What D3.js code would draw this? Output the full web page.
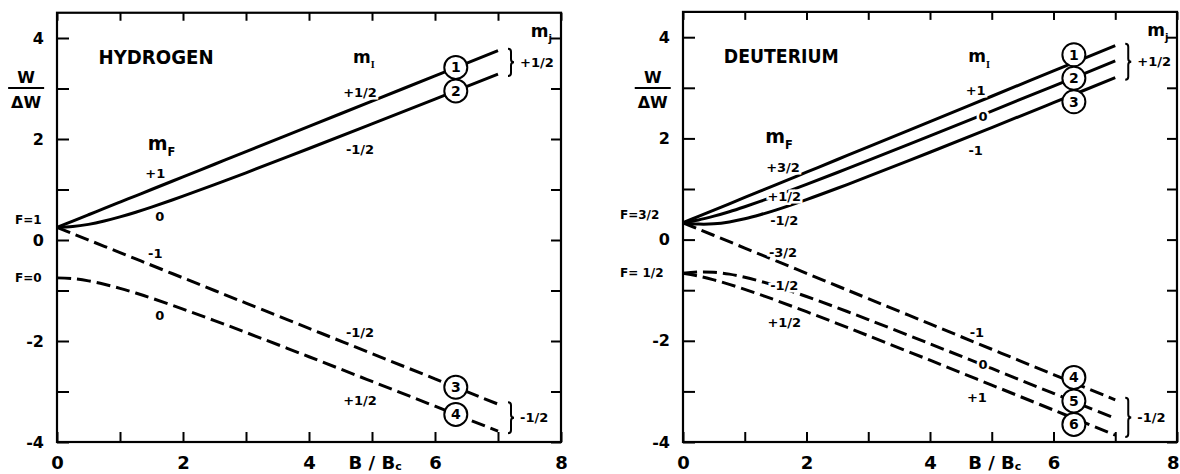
<!DOCTYPE html>
<html>
<head>
<meta charset="utf-8">
<script src="https://cdn.jsdelivr.net/npm/d3@7"></script>
<style>
  body { margin: 0; background: #fff; }
  svg { display: block; font-family: "DejaVu Sans", sans-serif; font-weight: bold; }
</style>
</head>
<body>
<div id="container"></div>
<script>
// B/Bc sample points and W/ΔW
const bField = [0, 0.25, 0.5, 0.75, 1, 1.25, 1.5, 2, 2.5, 3, 4, 5, 6, 7];

// hydrogen
const hyd1 = [0.25, 0.375, 0.5, 0.625, 0.75, 0.875, 1.0, 1.25, 1.5, 1.75, 2.25, 2.75, 3.25, 3.75];
const hyd2 = [0.25, 0.265, 0.309, 0.375, 0.457, 0.55, 0.651, 0.868, 1.096, 1.331, 1.812, 2.3, 2.791, 3.286];
const hyd3 = [0.25, 0.125, 0, -0.125, -0.25, -0.375, -0.5, -0.75, -1.0, -1.25, -1.75, -2.25, -2.75, -3.25];
const hyd4 = [-0.75, -0.765, -0.809, -0.875, -0.957, -1.05, -1.151, -1.368, -1.596, -1.831, -2.312, -2.8, -3.291, -3.786];

// deuterium
const deut1 = [0.333, 0.458, 0.583, 0.708, 0.833, 0.958, 1.083, 1.333, 1.583, 1.833, 2.333, 2.833, 3.333, 3.833];
const deut2 = [0.333, 0.388, 0.463, 0.551, 0.65, 0.755, 0.864, 1.092, 1.326, 1.565, 2.051, 2.541, 3.035, 3.53];
const deut3 = [0.333, 0.307, 0.312, 0.349, 0.411, 0.491, 0.583, 0.791, 1.015, 1.248, 1.726, 2.214, 2.706, 3.2];
const deut4 = [0.333, 0.208, 0.083, -0.042, -0.167, -0.292, -0.417, -0.667, -0.917, -1.167, -1.667, -2.167, -2.667, -3.167];
const deut5 = [-0.667, -0.64, -0.645, -0.682, -0.744, -0.824, -0.917, -1.124, -1.348, -1.581, -2.06, -2.547, -3.039, -3.533];
const deut6 = [-0.667, -0.721, -0.796, -0.885, -0.983, -1.088, -1.197, -1.425, -1.66, -1.899, -2.384, -2.875, -3.368, -3.863];

const xTicks = [0, 1, 2, 3, 4, 5, 6, 7, 8];
const xTickLabels = [0, 2, 4, 6, 8];
const yTicks = [-4, -3, -2, -1, 0, 1, 2, 3, 4];
const yTickLabels = [-4, -2, 0, 2, 4];

// quantum number labels: text, B/Bc, W/ΔW
const hydLabels = [
  ["+1", 1.56, 1.33], ["0", 1.63, 0.46], ["-1", 1.56, -0.26], ["0", 1.63, -1.49],
  ["+1/2", 4.81, 2.93], ["-1/2", 4.81, 1.8], ["-1/2", 4.81, -1.82], ["+1/2", 4.81, -3.17]
];
const deutLabels = [
  ["+3/2", 1.62, 1.42], ["+1/2", 1.64, 0.86], ["-1/2", 1.64, 0.39], ["-3/2", 1.62, -0.25],
  ["-1/2", 1.64, -0.9], ["+1/2", 1.64, -1.63],
  ["+1", 4.74, 2.96], ["0", 4.86, 2.44], ["-1", 4.74, 1.77],
  ["-1", 4.76, -1.84], ["0", 4.86, -2.47], ["+1", 4.76, -3.11]
];

const width = 1180;
const height = 474;

const panels = [
  {
    title: "HYDROGEN", xRange: [57, 561], yRange: [442, 12.75],
    series: [[hyd1, false], [hyd2, false], [hyd3, true], [hyd4, true]],
    groups: [[0, 1, "+1/2"], [2, 3, "-1/2"]],
    labels: hydLabels,
    mF: [1.44, 1.88], mI: 4.7,
    fLabels: [["F=1", 0.4], ["F=0", -0.75]], fStart: -42
  },
  {
    title: "DEUTERIUM", xRange: [683, 1177], yRange: [442, 11.9],
    series: [[deut1, false], [deut2, false], [deut3, false], [deut4, true], [deut5, true], [deut6, true]],
    groups: [[0, 2, "+1/2"], [3, 5, "-1/2"]],
    labels: deutLabels,
    mF: [1.33, 2.0], mI: 4.62,
    fLabels: [["F=3/2", 0.49], ["F= 1/2", -0.66]], fStart: -63
  }
];

const svg = d3.select("#container").append("svg")
  .attr("width", width)
  .attr("height", height);

function brace(x, y0, y1, w) {
  const m = (y0 + y1) / 2;
  return `M${x},${y0} Q${x + w},${y0} ${x + w},${y0 + w} L${x + w},${m - w} Q${x + w},${m} ${x + 2 * w},${m}` +
    ` Q${x + w},${m} ${x + w},${m + w} L${x + w},${y1 - w} Q${x + w},${y1} ${x},${y1}`;
}

panels.forEach(p => {
  const x = d3.scaleLinear().domain([0, 8]).range(p.xRange);
  const y = d3.scaleLinear().domain([-4, 4.5]).range(p.yRange);
  const g = svg.append("g");

  // frame
  g.append("rect")
    .attr("x", x(0)).attr("y", y(4.5))
    .attr("width", x(8) - x(0)).attr("height", y(-4) - y(4.5))
    .attr("fill", "none").attr("stroke", "#000").attr("stroke-width", 2.2);

  const styleAxis = (sel, size) => {
    sel.select(".domain").remove();
    sel.selectAll(".tick line").attr("stroke-width", 2);
    sel.selectAll("text").attr("font-family", "DejaVu Sans").attr("font-weight", "bold").attr("font-size", size);
  };

  g.append("g")
    .attr("transform", `translate(${x(0)},0)`)
    .call(d3.axisLeft(y).tickValues(yTicks).tickSize(-12).tickPadding(13)
      .tickFormat(d => yTickLabels.includes(d) ? String(d) : ""))
    .call(s => styleAxis(s, 16));

  g.append("g")
    .attr("transform", `translate(${x(8)},0)`)
    .call(d3.axisRight(y).tickValues(yTicks).tickSize(-10).tickFormat(""))
    .call(s => styleAxis(s, 16));

  g.append("g")
    .attr("transform", `translate(0,${y(4.5)})`)
    .call(d3.axisTop(x).tickValues(xTicks).tickSize(-8).tickFormat(""))
    .call(s => styleAxis(s, 16));

  g.append("g")
    .attr("transform", `translate(0,${y(-4)})`)
    .call(d3.axisBottom(x).tickValues(xTicks).tickSize(-10).tickPadding(14)
      .tickFormat(d => xTickLabels.includes(d) ? String(d) : ""))
    .call(s => styleAxis(s, 18))
    // keep the last label inside the page
    .call(s => s.selectAll(".tick text")
      .filter(d => x(d) + 7 > width)
      .attr("text-anchor", "end").attr("dx", width - x(8) - 1));

  // x axis title B/Bc
  const xt = g.append("text")
    .attr("x", x(5.05)).attr("y", y(-4) + 27)
    .attr("text-anchor", "middle").attr("font-size", 18);
  xt.append("tspan").text("B / B");
  xt.append("tspan").attr("font-size", 11).attr("dy", 1).text("c");

  // y axis title W/ΔW
  const yx = x(-0.49);
  g.append("text").attr("x", yx).attr("y", 83).attr("text-anchor", "middle").attr("font-size", 16).text("W");
  g.append("line").attr("x1", yx - 18).attr("x2", yx + 18).attr("y1", 88).attr("y2", 88)
    .attr("stroke", "#000").attr("stroke-width", 2);
  g.append("text").attr("x", yx).attr("y", 108).attr("text-anchor", "middle").attr("font-size", 16).text("ΔW");

  // curves
  const line = d3.line()
    .x((d, i) => x(bField[i]))
    .y(d => y(d))
    .curve(d3.curveCatmullRom);

  p.series.forEach(([vals, dashed]) => {
    g.append("path")
      .attr("d", line(vals))
      .attr("fill", "none")
      .attr("stroke", "#000")
      .attr("stroke-width", 3)
      .attr("stroke-dasharray", dashed ? "14,6" : null);
  });

  // title
  g.append("text")
    .attr("x", x(0.66)).attr("y", y(3.62))
    .attr("dy", "0.36em").attr("font-size", 19)
    .attr("textLength", 115).attr("lengthAdjust", "spacingAndGlyphs")
    .text(p.title);

  // m_F, m_I, m_j headers
  const sub = (px, py, s, size, serif) => {
    const t = g.append("text").attr("x", px).attr("y", py).attr("font-size", size);
    t.append("tspan").text("m");
    t.append("tspan").attr("font-size", size * 0.6).attr("dy", size * 0.3)
      .attr("font-family", serif ? "Liberation Serif" : null).text(s);
  };
  sub(x(p.mF[0]), y(p.mF[1]) + 5, "F", 19);
  sub(x(p.mI), y(3.6) + 5, "I", 17, true);
  sub(x(7.52), y(4.12) + 5, "j", 17);

  // F labels left of the axis
  p.fLabels.forEach(([t, v]) => {
    g.append("text").attr("x", x(0) + p.fStart).attr("y", y(v)).attr("dy", "0.36em")
      .attr("font-size", 12).text(t);
  });

  // quantum number labels
  p.labels.forEach(([t, bx, w]) => {
    g.append("text")
      .attr("x", x(bx)).attr("y", y(w)).attr("dy", "0.36em")
      .attr("text-anchor", "middle").attr("font-size", 13)
      .attr("stroke", "#fff").attr("stroke-width", 5).attr("paint-order", "stroke")
      .text(t);
  });

  // numbered circles and braces
  const R = 11.5;
  let num = 1;
  const bc = 6.33;
  p.groups.forEach(([a, b, mj]) => {
    const idx = d3.range(a, b + 1);
    const ys = idx.map(k => y(d3.scaleLinear().domain(bField).range(p.series[k][0])(bc)));
    const n = ys.length;
    const mean = d3.mean(ys);
    const step = Math.max((ys[n - 1] - ys[0]) / (n - 1), 2 * R + 0.5);
    ys.forEach((_, i) => {
      const cy = mean + (i - (n - 1) / 2) * step;
      g.append("circle").attr("cx", x(bc)).attr("cy", cy).attr("r", R)
        .attr("fill", "#fff").attr("stroke", "#000").attr("stroke-width", 2);
      g.append("text").attr("x", x(bc)).attr("y", cy).attr("dy", "0.36em")
        .attr("text-anchor", "middle").attr("font-size", 14).text(num++);
    });

    const last = bField.length - 1;
    const y0 = y(p.series[a][0][last]) - 2;
    const y1 = y(p.series[b][0][last]) + 2;
    const bx = x(7) + 10;
    g.append("path").attr("d", brace(bx, y0, y1, 3))
      .attr("fill", "none").attr("stroke", "#000").attr("stroke-width", 2);
    g.append("text").attr("x", bx + 12).attr("y", (y0 + y1) / 2).attr("dy", "0.36em")
      .attr("font-size", 13).text(mj);
  });
});
</script>
</body>
</html>
